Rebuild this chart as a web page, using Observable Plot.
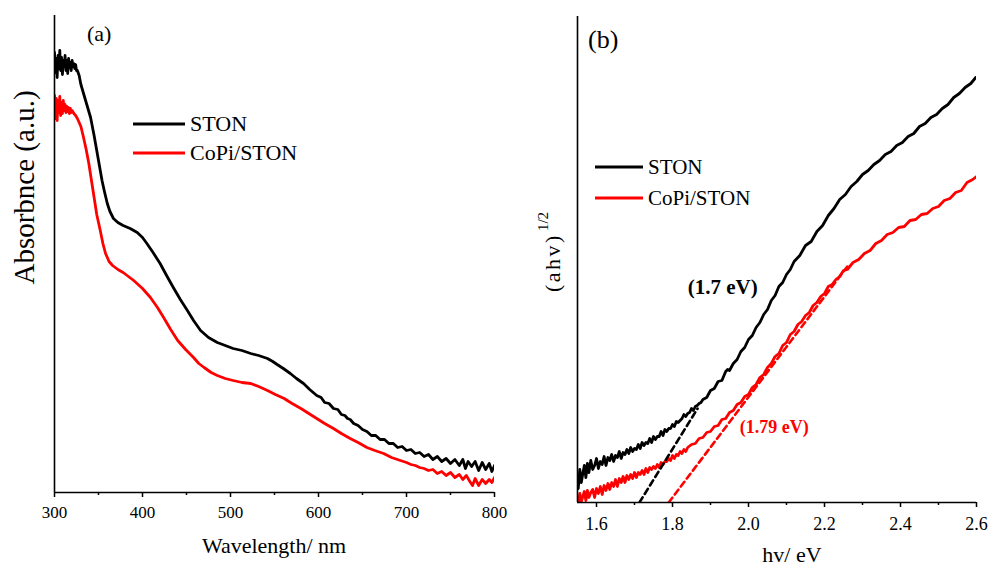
<!DOCTYPE html>
<html>
<head>
<meta charset="utf-8">
<script src="https://cdn.jsdelivr.net/npm/d3@7"></script>
<script src="https://cdn.jsdelivr.net/npm/@observablehq/plot@0.6"></script>
<style>
  html, body { margin: 0; padding: 0; background: #ffffff; }
  #wrap { position: relative; width: 990px; height: 569px; overflow: hidden; background: #fff;
          font-family: "Liberation Serif", "Times New Roman", serif; }
  #wrap svg, #wrap text, #wrap tspan { font-family: "Liberation Serif", "Times New Roman", serif !important; }
  #panelA { position: absolute; left: 0; top: 0; }
  #panelB { position: absolute; left: 520px; top: 0; }
  #overlay { position: absolute; left: 0; top: 0; pointer-events: none; }
</style>
</head>
<body>
<div id="wrap">
  <div id="panelA"></div>
  <div id="panelB"></div>
  <svg id="overlay" width="990" height="569"></svg>
</div>
<script>
// ---------------- Panel (a): absorbance spectra ----------------
const wavelengthSTON = [
  300,301,302,303,304,305,306,307,308,309,310,311,312,313,314,315,316,317,318,319,320,321,322,323,324,325,326,
  328,330,333,337,341,345,348,351,354,357,360,363,367,372,378,386,394,400,405,412,420,428,435,443,451,458,466,
  475,485,494,503,513,523,532,542,548,553,560,568,575,583,590,598,603,607,612,617,622,626,630,633,
  636,640,645,650,655,660,665,670,675,680,685,690,695,700,705,710,715,720,725,730,735,740,745,750,755,760,
  764,767,770,774,778,782,786,790,794,797,800
];
const absorbanceSTON = [
  4.40,4.20,4.34,4.15,4.37,4.24,4.42,4.22,4.35,4.18,4.32,4.26,4.37,4.22,4.32,4.19,4.34,4.25,4.30,4.22,4.32,4.26,4.29,4.24,4.28,4.22,4.22,
  4.17,4.08,3.99,3.87,3.75,3.57,3.42,3.27,3.12,3.00,2.89,2.81,2.74,2.70,2.67,2.64,2.60,2.55,2.49,2.40,2.29,2.16,2.05,1.93,1.82,1.72,1.62,
  1.55,1.50,1.47,1.44,1.42,1.39,1.37,1.34,1.31,1.28,1.24,1.19,1.14,1.09,1.03,0.97,0.95,0.90,0.89,0.84,0.83,0.78,0.77,0.74,
  0.73,0.69,0.67,0.63,0.61,0.57,0.57,0.53,0.53,0.49,0.49,0.45,0.46,0.42,0.43,0.39,0.40,0.36,0.38,0.33,0.36,0.31,0.34,0.29,0.33,0.27,
  0.33,0.24,0.31,0.26,0.31,0.22,0.30,0.23,0.29,0.21,0.27
];
const wavelengthCoPi = [
  300,301,302,303,304,305,306,307,308,309,310,311,312,313,314,315,316,317,318,319,320,322,324,326,
  330,333,336,339,342,345,348,352,355,358,362,366,372,378,384,390,400,409,417,424,432,440,449,458,464,470,478,
  485,494,503,513,523,532,542,551,561,570,580,589,598,607,617,626,636,645,655,664,674,683,693,
  700,705,710,715,720,725,730,735,740,745,750,755,760,764,768,772,775,778,782,786,790,794,797,800
];
const absorbanceCoPi = [
  3.97,3.74,3.94,3.72,3.92,3.80,3.96,3.77,3.90,3.79,3.92,3.82,3.88,3.80,3.86,3.81,3.85,3.79,3.84,3.80,3.82,3.79,3.77,3.74,
  3.66,3.55,3.43,3.29,3.12,2.95,2.78,2.62,2.49,2.39,2.31,2.27,2.23,2.20,2.16,2.12,2.04,1.95,1.85,1.75,1.63,1.52,1.43,1.35,1.29,1.25,1.20,
  1.17,1.14,1.12,1.10,1.09,1.06,1.02,0.98,0.94,0.89,0.84,0.79,0.74,0.69,0.64,0.59,0.54,0.50,0.45,0.42,0.39,0.35,0.32,
  0.30,0.28,0.27,0.25,0.24,0.22,0.23,0.19,0.21,0.17,0.20,0.15,0.18,0.13,0.17,0.11,0.07,0.14,0.07,0.13,0.09,0.13,0.10,0.15
];
const xTicksA = [300, 400, 500, 600, 700, 800];
const xMinorTicksA = [350, 450, 550, 650, 750];

// ---------------- Panel (b): Tauc plot ----------------
const energySTON = [
  1.552,1.556,1.560,1.564,1.568,1.572,1.576,1.580,1.585,1.590,1.595,1.600,1.605,1.610,1.615,1.620,1.625,1.630,1.635,1.640,
  1.645,1.650,1.655,1.660,1.665,1.670,1.675,1.680,1.685,1.690,1.695,1.700,1.705,1.710,1.715,1.720,1.725,1.730,1.735,1.740,
  1.745,1.750,1.755,1.760,1.765,1.770,1.775,1.780,1.785,1.790,1.795,1.800,1.805,1.810,1.815,1.820,1.825,1.830,1.835,1.840,
  1.845,1.850,1.855,1.860,1.865,1.870,1.875,1.880,1.890,1.900,1.910,1.920,1.930,1.940,1.945,1.950,1.960,1.970,1.980,1.990,
  2.000,2.010,2.020,2.030,2.040,2.050,2.060,2.070,2.080,2.090,2.100,2.110,2.120,2.135,2.150,2.165,2.180,2.195,2.210,2.225,
  2.240,2.255,2.270,2.285,2.300,2.315,2.330,2.345,2.360,2.375,2.390,2.405,2.420,2.435,2.450,2.465,2.480,2.495,2.510,2.525,
  2.540,2.555,2.570,2.585,2.598
];
const ahvSTON = [
  0.14,0.33,0.20,0.29,0.37,0.25,0.39,0.30,0.42,0.33,0.37,0.44,0.34,0.41,0.38,0.46,0.37,0.45,0.42,0.48,
  0.41,0.47,0.45,0.51,0.44,0.50,0.48,0.53,0.49,0.55,0.51,0.54,0.53,0.58,0.54,0.60,0.57,0.60,0.59,0.64,
  0.60,0.66,0.63,0.66,0.66,0.71,0.67,0.73,0.71,0.74,0.74,0.78,0.76,0.81,0.80,0.82,0.84,0.88,0.86,0.89,
  0.90,0.94,0.92,0.96,0.97,0.99,1.00,1.03,1.05,1.12,1.14,1.21,1.22,1.31,1.33,1.32,1.39,1.43,1.51,1.55,
  1.63,1.67,1.75,1.80,1.88,1.93,2.02,2.07,2.16,2.20,2.28,2.33,2.41,2.47,2.57,2.61,2.71,2.77,2.87,2.94,
  3.03,3.08,3.16,3.21,3.28,3.32,3.38,3.42,3.48,3.51,3.57,3.60,3.66,3.69,3.76,3.79,3.85,3.88,3.94,3.98,
  4.05,4.09,4.15,4.19,4.25
];
const energyCoPi = [
  1.552,1.556,1.560,1.564,1.568,1.572,1.576,1.580,1.585,1.590,1.595,1.600,1.605,1.610,1.615,1.620,1.625,1.630,1.635,1.640,
  1.645,1.650,1.655,1.660,1.665,1.670,1.675,1.680,1.685,1.690,1.695,1.700,1.705,1.710,1.715,1.720,1.725,1.730,1.735,1.740,
  1.745,1.750,1.755,1.760,1.765,1.770,1.775,1.780,1.785,1.790,1.795,1.800,1.805,1.810,1.815,1.820,1.825,1.830,1.835,1.840,
  1.850,1.860,1.870,1.880,1.890,1.900,1.910,1.920,1.930,1.940,1.950,1.960,1.970,1.980,1.990,2.000,2.010,2.020,2.030,2.040,
  2.050,2.060,2.070,2.080,2.090,2.100,2.110,2.120,2.130,2.140,2.150,2.160,2.170,2.180,2.190,2.200,2.210,2.220,2.230,2.240,
  2.250,2.260,2.275,2.290,2.305,2.320,2.335,2.350,2.365,2.380,2.395,2.410,2.425,2.440,2.455,2.470,2.485,2.500,2.515,2.530,
  2.545,2.560,2.575,2.590,2.600
];
const ahvCoPi = [
  -0.03,0.09,0.01,0.06,0.11,0.02,0.12,0.05,0.10,0.13,0.05,0.14,0.09,0.16,0.08,0.17,0.12,0.19,0.13,0.20,
  0.16,0.23,0.16,0.24,0.20,0.26,0.20,0.27,0.23,0.28,0.24,0.30,0.25,0.30,0.28,0.32,0.28,0.34,0.30,0.35,
  0.33,0.36,0.34,0.38,0.35,0.40,0.38,0.41,0.41,0.44,0.42,0.47,0.44,0.48,0.47,0.51,0.49,0.53,0.51,0.55,
  0.58,0.59,0.64,0.65,0.70,0.71,0.76,0.77,0.83,0.84,0.90,0.92,0.98,1.00,1.06,1.08,1.15,1.18,1.25,1.28,
  1.35,1.39,1.46,1.49,1.57,1.60,1.68,1.71,1.78,1.81,1.87,1.90,1.97,2.00,2.06,2.09,2.16,2.18,2.23,2.26,
  2.32,2.33,2.40,2.43,2.49,2.52,2.59,2.62,2.68,2.70,2.75,2.76,2.82,2.83,2.88,2.89,2.94,2.96,3.02,3.04,
  3.10,3.12,3.20,3.23,3.26
];
// linear extrapolations of the absorption edge
const fitEnergySTON = [1.713, 1.866];
const fitAhvSTON = [0, 0.94];
const fitEnergyCoPi = [1.79, 2.26];
const fitAhvCoPi = [0, 2.36];
const gapLabels = ["(1.7 eV)", "(1.79 eV)"];
const gapLabelEnergy = [1.932, 2.068];
const gapLabelAhv = [2.15, 0.75];
const xTicksB = [1.6, 1.8, 2.0, 2.2, 2.4, 2.6];
const xMinorTicksB = [1.7, 1.9, 2.1, 2.3, 2.5];

const seriesNames = ["STON", "CoPi/STON"];
const seriesColors = ["#000000", "#ff0000"];

// ---------- build tables ----------
const zipXY = (xs, ys) => xs.map((x, i) => ({x, y: ys[i]}));
const lineA = [zipXY(wavelengthSTON, absorbanceSTON), zipXY(wavelengthCoPi, absorbanceCoPi)];
const lineB = [zipXY(energySTON, ahvSTON), zipXY(energyCoPi, ahvCoPi)];
const fitB = [zipXY(fitEnergySTON, fitAhvSTON), zipXY(fitEnergyCoPi, fitAhvCoPi)];
const labelB = gapLabels.map((t, i) => ({x: gapLabelEnergy[i], y: gapLabelAhv[i], t}));

const FONT = "'Liberation Serif', 'Times New Roman', serif";
const LW = 2.8;

const plotA = Plot.plot({
  width: 520, height: 569,
  marginLeft: 54, marginRight: 26, marginTop: 15, marginBottom: 77,
  style: {fontFamily: FONT, fontSize: "17px", color: "#000", background: "transparent", overflow: "visible"},
  x: {domain: [300, 800]},
  y: {domain: [0, 4.77], axis: null},
  marks: [
    Plot.line(lineA[1], {x: "x", y: "y", stroke: seriesColors[1], strokeWidth: LW, clip: true}),
    Plot.line(lineA[0], {x: "x", y: "y", stroke: seriesColors[0], strokeWidth: LW, clip: true}),
    Plot.ruleX([300], {stroke: "#000", strokeWidth: 1.6}),
    Plot.ruleY([0], {stroke: "#000", strokeWidth: 1.6}),
    Plot.axisX({ticks: xTicksA, tickSize: 5, tickPadding: 8, strokeWidth: 1.5, label: null, fontSize: 17, tickFormat: d3.format("d")}),
    Plot.axisX({ticks: xMinorTicksA, tickSize: 3, strokeWidth: 1.5, label: null, tickFormat: () => ""})
  ]
});
document.getElementById("panelA").appendChild(plotA);

const plotB = Plot.plot({
  width: 470, height: 569,
  marginLeft: 57, marginRight: 14, marginTop: 16, marginBottom: 67,
  style: {fontFamily: FONT, fontSize: "18px", color: "#000", background: "transparent", overflow: "visible"},
  x: {domain: [1.55, 2.6]},
  y: {domain: [0, 4.86], axis: null},
  marks: [
    Plot.line(lineB[0], {x: "x", y: "y", stroke: seriesColors[0], strokeWidth: LW, clip: true}),
    Plot.line(lineB[1], {x: "x", y: "y", stroke: seriesColors[1], strokeWidth: LW, clip: true}),
    Plot.line(fitB[0], {x: "x", y: "y", stroke: seriesColors[0], strokeWidth: 2.6, strokeDasharray: "6,4", clip: true}),
    Plot.line(fitB[1], {x: "x", y: "y", stroke: seriesColors[1], strokeWidth: 2.6, strokeDasharray: "6,4", clip: true}),
    Plot.text([labelB[0]], {x: "x", y: "y", text: "t", fill: seriesColors[0], fontWeight: "bold", fontSize: 21}),
    Plot.text([labelB[1]], {x: "x", y: "y", text: "t", fill: seriesColors[1], fontWeight: "bold", fontSize: 18}),
    Plot.ruleX([1.55], {stroke: "#000", strokeWidth: 1.6}),
    Plot.ruleY([0], {stroke: "#000", strokeWidth: 1.6}),
    Plot.axisX({ticks: xTicksB, tickSize: 5, tickPadding: 10, strokeWidth: 1.5, label: null, fontSize: 18, tickFormat: d3.format(".1f")}),
    Plot.axisX({ticks: xMinorTicksB, tickSize: 3, strokeWidth: 1.5, label: null, tickFormat: () => ""})
  ]
});
document.getElementById("panelB").appendChild(plotB);

// ---------- titles, panel tags and legends ----------
const svg = d3.select("#overlay");
svg.append("text").attr("x", 87).attr("y", 41).attr("font-size", 22).text("(a)");
svg.append("text").attr("x", 588).attr("y", 48).attr("font-size", 26).text("(b)");

svg.append("text").attr("transform", "translate(33.5,187.5) rotate(-90)")
  .attr("text-anchor", "middle").attr("font-size", 29).text("Absorbnce (a.u.)");
svg.append("text").attr("x", 274).attr("y", 553).attr("text-anchor", "middle")
  .attr("font-size", 22).text("Wavelength/ nm");
svg.append("text").attr("x", 792).attr("y", 562).attr("text-anchor", "middle")
  .attr("font-size", 22).text("hv/ eV");
const yb = svg.append("text").attr("transform", "translate(560,292) rotate(-90)")
  .attr("font-size", 22).attr("letter-spacing", "2.5px");
yb.append("tspan").text("(ahv)");
yb.append("tspan").attr("dx", 2).attr("dy", -12).attr("font-size", 15).attr("letter-spacing", "0px").text("1/2");

const legends = [
  {x1: 133, x2: 185, tx: 190, ys: [124, 153], fs: 22},
  {x1: 595, x2: 643, tx: 648, ys: [167, 198], fs: 21}
];
legends.forEach(L => {
  seriesNames.forEach((name, i) => {
    svg.append("line").attr("x1", L.x1).attr("x2", L.x2).attr("y1", L.ys[i]).attr("y2", L.ys[i])
      .attr("stroke", seriesColors[i]).attr("stroke-width", 3);
    svg.append("text").attr("x", L.tx).attr("y", L.ys[i] + L.fs * 0.33)
      .attr("font-size", L.fs).attr("fill", "#000").text(name);
  });
});
</script>
</body>
</html>
